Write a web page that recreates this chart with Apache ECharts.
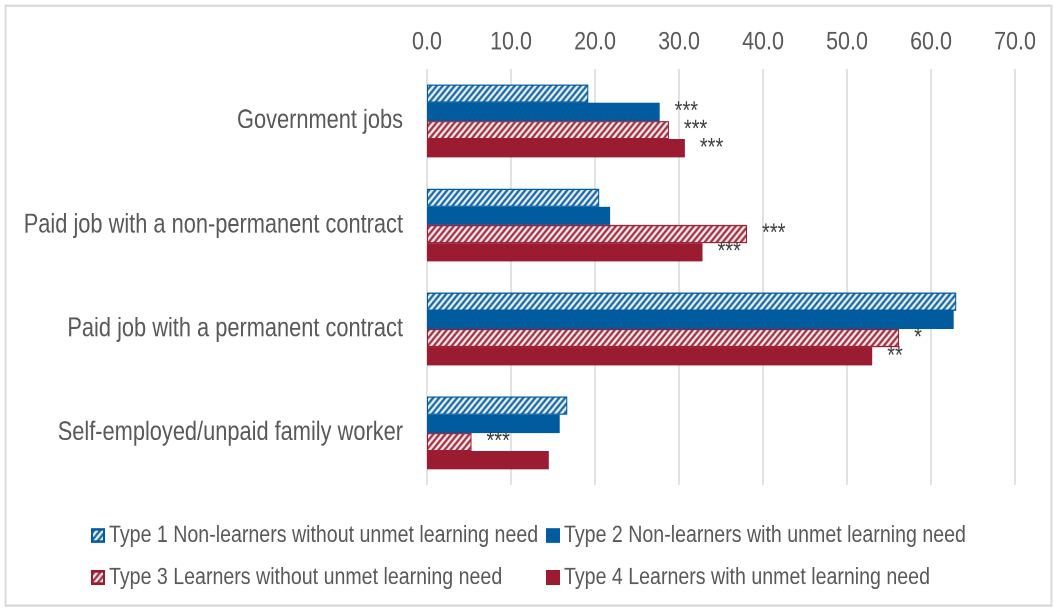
<!DOCTYPE html>
<html>
<head>
<meta charset="utf-8">
<script src="https://cdn.jsdelivr.net/npm/echarts@6/dist/echarts.min.js"></script>
<style>
  html, body { margin: 0; padding: 0; background: #fff; width: 1054px; height: 608px; overflow: hidden; }
  #frame { position: relative; width: 1054px; height: 608px; overflow: hidden; }
  /* drawn at a shorter height, then stretched to 608px tall (tall, narrow lettering) */
  #chart { position: absolute; left: 0; top: 0; width: 1054px; height: 498px;
           transform: scaleY(1.2209); transform-origin: 0 0; }
</style>
</head>
<body>
<div id="frame"><div id="chart"></div></div>
<script>
// Job type categories (top to bottom)
const categories = [
  'Government jobs',
  'Paid job with a non-permanent contract',
  'Paid job with a permanent contract',
  'Self-employed/unpaid family worker'
];
const seriesNames = [
  'Type 1 Non-learners without unmet learning need',
  'Type 2 Non-learners with unmet learning need',
  'Type 3 Learners without unmet learning need',
  'Type 4 Learners with unmet learning need'
];
// Shares (%) per type
const type1 = [19.2, 20.5, 63.0, 16.7];
const type2 = [27.7, 21.8, 62.7, 15.8];
const type3 = [28.8, 38.1, 56.2, 5.3];
const type4 = [30.7, 32.8, 53.0, 14.5];
// Significance markers per type
const sig1 = ['', '', '', ''];
const sig2 = ['***', '', '', ''];
const sig3 = ['***', '***', '*', '***'];
const sig4 = ['***', '***', '**', ''];
const xTicks = [0, 10, 20, 30, 40, 50, 60, 70];

const BLUE = '#005b9f';
const RED = '#9b1c31';

// diagonal white-stripe fill
function stripes(color) {
  const s = 6;
  const c = document.createElement('canvas');
  c.width = s; c.height = s;
  const g = c.getContext('2d');
  g.fillStyle = color;
  g.fillRect(0, 0, s, s);
  g.strokeStyle = '#ffffff';
  g.lineWidth = 2.2;
  g.beginPath();
  g.moveTo(0, s); g.lineTo(s, 0);
  g.moveTo(-s / 2, s / 2); g.lineTo(s / 2, -s / 2);
  g.moveTo(s / 2, s * 1.5); g.lineTo(s * 1.5, s / 2);
  g.stroke();
  return { image: c, repeat: 'repeat' };
}

const textColor = '#595959';
const font = '"Liberation Sans", Arial, sans-serif';

function bar(name, values, sig, fill, border) {
  return {
    name: name,
    type: 'bar',
    data: values,
    barGap: '0%',
    barCategoryGap: '30%',
    itemStyle: { color: fill, borderColor: border, borderWidth: 1 },
    label: {
      show: true,
      position: 'right',
      distance: 15,
      fontFamily: font,
      fontSize: 20,
      color: '#404040',
      formatter: p => sig[p.dataIndex]
    },
    emphasis: { disabled: true }
  };
}

const chart = echarts.init(document.getElementById('chart'), null, { devicePixelRatio: 2 });
const legendText = { fontFamily: font, fontSize: 19.6, color: textColor };
chart.setOption({
  animation: false,
  backgroundColor: '#fff',
  graphic: [{
    type: 'rect',
    shape: { x: 5.5, y: 4.6, width: 1046, height: 491.4 },
    style: { fill: null, stroke: '#d9d9d9', lineWidth: 1.8 },
    silent: true,
    z: -1
  }],
  grid: { left: 427, right: 39, top: 56.5, bottom: 100.8, outerBoundsMode: 'none' },
  legend: [
    {
      data: [seriesNames[0], seriesNames[2]],
      orient: 'vertical', left: 86, top: 423.6,
      icon: 'rect', itemWidth: 12, itemHeight: 10, itemGap: 14.4,
      textStyle: legendText
    },
    {
      data: [seriesNames[1], seriesNames[3]],
      orient: 'vertical', left: 541, top: 423.6,
      icon: 'rect', itemWidth: 12, itemHeight: 10, itemGap: 14.4,
      textStyle: legendText
    }
  ],
  xAxis: {
    type: 'value',
    position: 'top',
    min: xTicks[0],
    max: xTicks[xTicks.length - 1],
    interval: 10,
    axisLine: { show: false },
    axisTick: { show: false },
    axisLabel: {
      fontFamily: font, fontSize: 21.5, color: textColor, margin: 11,
      formatter: v => v.toFixed(1)
    },
    splitLine: { lineStyle: { color: '#d9d9d9', width: 1.5 } }
  },
  yAxis: {
    type: 'category',
    inverse: true,
    data: categories,
    axisLine: { show: false },
    axisTick: { show: false },
    axisLabel: { fontFamily: font, fontSize: 21.8, color: textColor, margin: 24 }
  },
  series: [
    bar(seriesNames[0], type1, sig1, stripes(BLUE), BLUE),
    bar(seriesNames[1], type2, sig2, BLUE, BLUE),
    bar(seriesNames[2], type3, sig3, stripes(RED), RED),
    bar(seriesNames[3], type4, sig4, RED, RED)
  ]
});
</script>
</body>
</html>
